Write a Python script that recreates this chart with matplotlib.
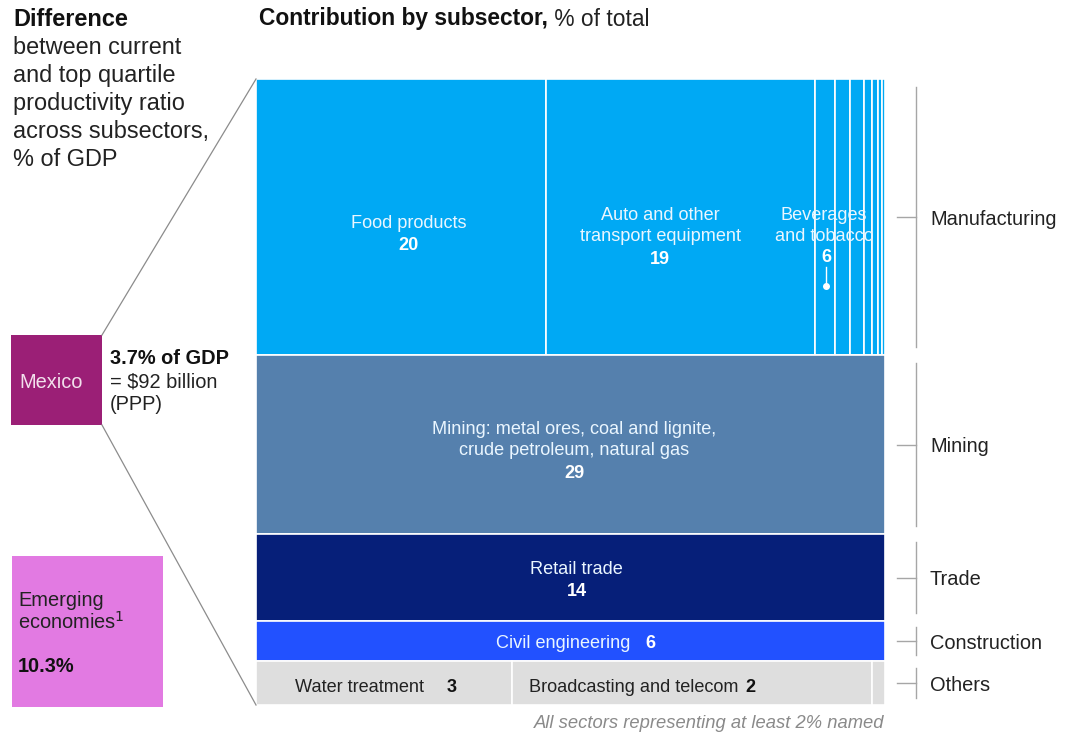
import matplotlib.pyplot as plt
from matplotlib.patches import Rectangle

plt.rcParams['font.family'] = ['Liberation Sans', 'DejaVu Sans']

# sector shares (% of total)
sectors = ['Manufacturing', 'Mining', 'Trade', 'Construction', 'Others']
manufacturing = [20.3, 18.9, 1.4, 1.05, 1.0, 0.55, 0.4, 0.3, 0.2]
mining = [28.6]
trade = [13.9]
construction = [6.4]
others = [2.85, 4.0, 0.15]
rows = [manufacturing, mining, trade, construction, others]
row_colors = ['#00A9F4', '#5580AD', '#061F79', '#2251FF', '#DEDEDE']

gdp_share = 3.7
emerging_share = 10.3

fig = plt.figure(figsize=(10.66, 7.36), dpi=100)
ax = fig.add_axes([0, 0, 1, 1])
ax.set_xlim(0, 1066)
ax.set_ylim(736, 0)
ax.axis('off')

DY = 2  # small baseline nudge for text


def txt(x, y, s, **kw):
    kw.setdefault('va', 'center')
    return ax.text(x, y + DY, s, **kw)


# treemap frame in pixel units
x0, y0, W, H = 256, 79, 629, 626
total = sum(sum(r) for r in rows)

rects = []
y = y0
for vals, col in zip(rows, row_colors):
    h = sum(vals) / total * H
    x = x0
    row_rects = []
    for v in vals:
        w = v / sum(vals) * W
        ax.add_patch(Rectangle((x, y), w, h, facecolor=col, edgecolor='white', linewidth=1.2))
        row_rects.append((x, y, w, h))
        x += w
    rects.append(row_rects)
    y += h

def cx(r):
    return r[0] + r[2] / 2

fs = 13.1
lab = dict(fontsize=fs, ha='center')
wc = '#EAF6FF'
# manufacturing
food = rects[0][0]
txt(cx(food) + 8, 222, 'Food products', color=wc, **lab)
txt(cx(food) + 8, 244, '20', color='white', fontweight='bold', **lab)
auto = rects[0][1]
txt(cx(auto) - 20, 224, 'Auto and other\ntransport equipment', color=wc, linespacing=1.3, **lab)
txt(cx(auto) - 20, 257, '19', color='white', fontweight='bold', **lab)
txt(824, 224, 'Beverages\nand tobacco', color=wc, linespacing=1.3, **lab)
txt(826, 256, '6', color='white', fontweight='bold', **lab)
ax.plot([826, 826], [267, 284], color='white', lw=1)
ax.plot(826, 286, 'o', color='white', ms=4)
# mining
mr = rects[1][0]
txt(cx(mr) + 4, 438, 'Mining: metal ores, coal and lignite,\ncrude petroleum, natural gas',
    color=wc, linespacing=1.3, **lab)
txt(cx(mr) + 4, 471, '29', color='white', fontweight='bold', **lab)
# trade
tr = rects[2][0]
txt(cx(tr) + 6, 567, 'Retail trade', color=wc, **lab)
txt(cx(tr) + 6, 590, '14', color='white', fontweight='bold', **lab)
# construction
txt(496, 642, 'Civil engineering', color=wc, fontsize=fs, ha='left')
txt(650, 642, '6', color='white', fontweight='bold', fontsize=fs, ha='center')
# others
txt(295, 685, 'Water treatment', color='#222222', fontsize=fs, ha='left')
txt(452, 685, '3', color='#111111', fontweight='bold', fontsize=fs, ha='center')
txt(529, 685, 'Broadcasting and telecom', color='#222222', fontsize=fs, ha='left')
txt(750, 685, '2', color='#111111', fontweight='bold', fontsize=fs, ha='center')

txt(884, 721, 'All sectors representing at least 2% named', color='#8A8A8A', style='italic',
    fontsize=13.2, ha='right')

# right-hand brackets
for name, row_rects in zip(sectors, rects):
    top = row_rects[0][1]
    h = row_rects[0][3]
    pad = min(8, h * 0.15)
    ax.plot([916, 916], [top + pad, top + h - pad], color='#A6A6A6', lw=1)
    ax.plot([897, 916], [top + h / 2, top + h / 2], color='#A6A6A6', lw=1)
    txt(930, top + h / 2, name, fontsize=14.4, ha='left', color='#222222')

# left side boxes
ax.add_patch(Rectangle((11, 335), 91, 90, facecolor='#9B1F76', edgecolor='none'))
txt(19, 380, 'Mexico', color='#F2E0EC', fontsize=14.4, ha='left')
ax.add_patch(Rectangle((12, 556), 151, 151, facecolor='#E27AE2', edgecolor='none'))
txt(18, 598, 'Emerging', color='#222222', fontsize=14.4, ha='left')
txt(18, 620, 'economies$^1$', color='#222222', fontsize=14.4, ha='left')
txt(18, 665, f'{emerging_share}%', color='#111111', fontsize=14.4, fontweight='bold', ha='left')

txt(110, 357, f'{gdp_share}% of GDP', color='#111111', fontsize=14.4, fontweight='bold', ha='left')
txt(110, 380, '= $92 billion', color='#222222', fontsize=14.4, ha='left')
txt(110, 402, '(PPP)', color='#222222', fontsize=14.4, ha='left')

# connector lines
ax.plot([102, x0], [335, y0], color='#8C8C8C', lw=0.9)
ax.plot([102, x0], [425, y0 + H], color='#8C8C8C', lw=0.9)

# titles
txt(13, 18, 'Difference', fontsize=16.9, fontweight='bold', color='#111111', ha='left')
for i, line in enumerate(['between current', 'and top quartile', 'productivity ratio',
                          'across subsectors,', '% of GDP']):
    txt(13, 46 + i * 27.8, line, fontsize=16.9, color='#222222', ha='left')
t = txt(259, 17, 'Contribution by subsector,', fontsize=16.4, fontweight='bold', color='#111111',
        ha='left')
ax.annotate(' % of total', xy=(1, 0.5), xycoords=t, fontsize=16.4, color='#222222', ha='left', va='center')

fig.savefig('out.png', dpi=100)
